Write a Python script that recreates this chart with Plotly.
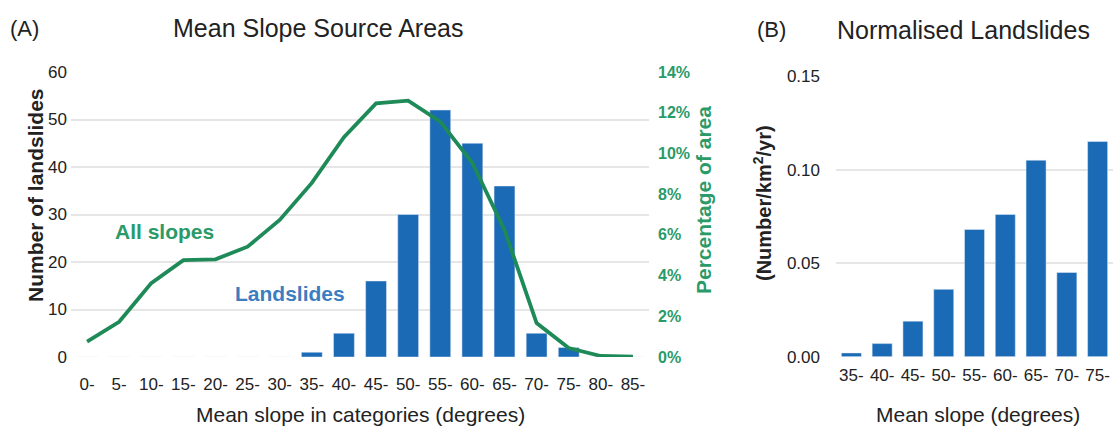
import plotly.graph_objects as go

# ---- data ----
slope_categories = ["0-", "5-", "10-", "15-", "20-", "25-", "30-", "35-", "40-",
                    "45-", "50-", "55-", "60-", "65-", "70-", "75-", "80-", "85-"]
landslide_counts = [0, 0, 0, 0, 0, 0, 0, 1, 5, 16, 30, 52, 45, 36, 5, 2, 0, 0]
area_percent = [0.75, 1.73, 3.63, 4.76, 4.8, 5.42, 6.73, 8.55, 10.8, 12.46,
                12.59, 11.56, 9.53, 6.24, 1.67, 0.44, 0.05, 0.02]

norm_categories = ["35-", "40-", "45-", "50-", "55-", "60-", "65-", "70-", "75-"]
norm_values = [0.002, 0.007, 0.019, 0.036, 0.068, 0.076, 0.105, 0.045, 0.115]

W, H = 1117, 428
def px(x):
    return x / W
def py(y):
    return 1 - y / H

BAR = "#1b6ab5"
LINE = "#1e8a57"
GREEN_TXT = "#2a9a68"
BLUE_TXT = "#3b7dbf"
GRID = "#e6e6e6"
TXT = "#222222"
FONT = "Liberation Sans, Arial, sans-serif"

fig = go.Figure()
fig.add_trace(go.Bar(x=slope_categories, y=landslide_counts, marker_color=BAR,
                     xaxis="x", yaxis="y", showlegend=False))
fig.add_trace(go.Scatter(x=slope_categories, y=area_percent, mode="lines",
                         line=dict(color=LINE, width=3.8),
                         xaxis="x", yaxis="y2", showlegend=False))
fig.add_trace(go.Bar(x=norm_categories, y=norm_values, marker_color=BAR,
                     xaxis="x3", yaxis="y3", showlegend=False))

tickfont = dict(family=FONT, size=17, color=TXT)

fig.update_layout(
    width=W, height=H,
    margin=dict(l=0, r=0, t=0, b=0, pad=0, autoexpand=False),
    paper_bgcolor="white", plot_bgcolor="white",
    bargap=0.35,
    showlegend=False,
    font=dict(family=FONT, color=TXT),
    xaxis=dict(domain=[px(71), px(649)], anchor="y", type="category",
               showgrid=False, showline=False, zeroline=False, automargin=False,
               ticks="", tickfont=tickfont, ticklabelstandoff=15),
    yaxis=dict(domain=[py(357), py(72)], anchor="x", range=[0, 60], dtick=10,
               showgrid=True, gridcolor=GRID, gridwidth=1.5, zeroline=False,
               automargin=False,
               showline=False, ticks="", tickfont=tickfont, ticklabelstandoff=3),
    yaxis2=dict(overlaying="y", side="right", anchor="x", range=[0, 14], dtick=2,
                ticksuffix="%", showgrid=False, zeroline=False, showline=False,
                automargin=False, ticks="", ticklabelstandoff=8,
                tickfont=dict(family=FONT, size=16, color=GREEN_TXT, weight="bold")),
    xaxis3=dict(domain=[px(836), px(1113)], anchor="y3", type="category",
                showgrid=False, showline=False, zeroline=False, automargin=False,
                ticks="", tickfont=tickfont, ticklabelstandoff=6),
    yaxis3=dict(domain=[py(356.7), py(76)], anchor="x3", range=[0, 0.15], dtick=0.05,
                tickformat=".2f", showgrid=True, gridcolor=GRID, gridwidth=1.5,
                zeroline=False, showline=False, automargin=False, ticks="",
                tickfont=tickfont, ticklabelstandoff=15),
)

def ann(text, x, y, size, color=TXT, bold=False, angle=0, xanchor="center"):
    fig.add_annotation(text=text, x=px(x), y=py(y), xref="paper", yref="paper",
                       xanchor=xanchor, yanchor="middle", showarrow=False,
                       textangle=angle,
                       font=dict(family=FONT, size=size, color=color,
                                 weight="bold" if bold else "normal"))

ann("(A)", 8, 28, 22, xanchor="left")
ann("Mean Slope Source Areas", 318, 28, 25)
ann("(B)", 755, 30, 22, xanchor="left")
ann("Normalised Landslides", 963, 30, 25)
ann("Number of landslides", 35, 195, 21, bold=True, angle=-90)
ann("Percentage of area", 703, 200, 21, color=GREEN_TXT, bold=True, angle=-90)
ann("(Number/km<sup>2</sup>/yr)", 762, 203, 20, bold=True, angle=-90)
ann("Mean slope in categories (degrees)", 360, 414, 21)
ann("Mean slope (degrees)", 978, 414, 21)
ann("All slopes", 164, 232, 21, color=GREEN_TXT, bold=True)
ann("Landslides", 290, 293, 21, color=BLUE_TXT, bold=True)

fig.write_html("out.html", config={"displayModeBar": False},
               post_script="document.body.style.margin='0px';")
